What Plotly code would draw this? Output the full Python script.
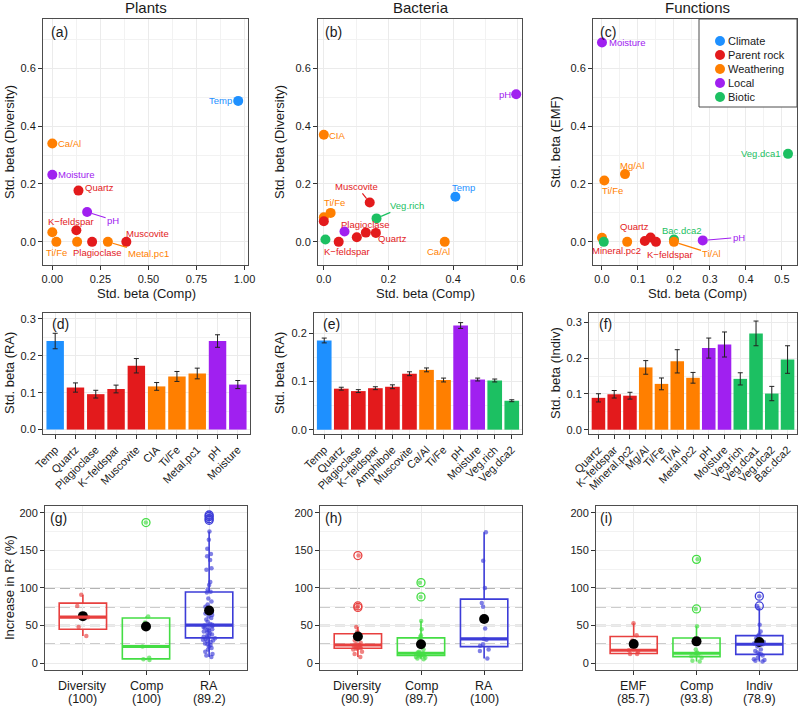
import numpy as np
import plotly.graph_objects as go

# ---------------- data ----------------
group_names = ["Climate", "Parent rock", "Weathering", "Local", "Biotic"]
group_hex = ["#1E90FF", "#E31A1C", "#FF7F00", "#A020F0", "#1CC062"]

# (a) Plants: Std. beta (Comp) vs Std. beta (Diversity)
plants_label = ["Temp", "Ca/Al", "Moisture", "Quartz", "pH", "K\u2212feldspar", "", "Ti/Fe", "", "Plagioclase", "Metal.pc1", "Muscovite"]
plants_comp = [0.967, 0.0, 0.0, 0.136, 0.181, 0.125, 0.0, 0.021, 0.129, 0.207, 0.289, 0.385]
plants_div = [0.487, 0.340, 0.232, 0.177, 0.103, 0.040, 0.033, 0.0, 0.0, 0.0, 0.0, 0.0]
plants_group = ["Climate", "Weathering", "Local", "Parent rock", "Local", "Parent rock", "Weathering",
                "Weathering", "Weathering", "Parent rock", "Weathering", "Parent rock"]

# (b) Bacteria
bact_label = ["pH", "CIA", "Temp", "Muscovite", "Ti/Fe", "", "", "Veg.rich", "", "", "K\u2212feldspar", "", "Plagioclase", "Quartz", "Ca/Al"]
bact_comp = [0.595, 0.0, 0.407, 0.142, 0.021, 0.0, 0.0, 0.163, 0.064, 0.005, 0.046, 0.102, 0.130, 0.161, 0.374]
bact_div = [0.510, 0.370, 0.156, 0.136, 0.100, 0.085, 0.071, 0.081, 0.036, 0.008, 0.0, 0.016, 0.032, 0.031, 0.0]
bact_group = ["Local", "Weathering", "Climate", "Parent rock", "Weathering", "Weathering", "Parent rock", "Biotic",
              "Local", "Biotic", "Parent rock", "Parent rock", "Parent rock", "Parent rock", "Weathering"]

# (c) Functions
func_label = ["Moisture", "Veg.dca1", "Mg/Al", "Ti/Fe", "", "", "", "Mineral.pc2", "Quartz", "K\u2212feldspar", "Bac.dca2", "Ti/Al", "pH"]
func_comp = [0.0, 0.517, 0.064, 0.0065, 0.0, 0.005, 0.070, 0.119, 0.135, 0.150, 0.200, 0.200, 0.280]
func_emf = [0.689, 0.304, 0.234, 0.212, 0.014, 0.0, 0.0, 0.003, 0.015, 0.0, 0.008, 0.0, 0.005]
func_group = ["Local", "Biotic", "Weathering", "Weathering", "Weathering", "Biotic", "Weathering", "Parent rock",
              "Parent rock", "Parent rock", "Biotic", "Weathering", "Local"]

# (d) Plants RA bars
plants_vars = ["Temp", "Quartz", "Plagioclase", "K\u2212feldspar", "Muscovite", "CIA", "Ti/Fe", "Metal.pc1", "pH", "Moisture"]
plants_ra = [0.240, 0.114, 0.096, 0.110, 0.173, 0.117, 0.144, 0.152, 0.240, 0.122]
plants_ra_se = [0.021, 0.0125, 0.0105, 0.0105, 0.0195, 0.0105, 0.0135, 0.0145, 0.017, 0.011]
plants_bar_group = ["Climate", "Parent rock", "Parent rock", "Parent rock", "Parent rock",
                    "Weathering", "Weathering", "Weathering", "Local", "Local"]

# (e) Bacteria RA bars
bact_vars = ["Temp", "Quartz", "Plagioclase", "K\u2212feldspar", "Amphibole", "Muscovite", "Ca/Al", "Ti/Fe",
             "pH", "Moisture", "Veg.rich", "Veg.dca2"]
bact_ra = [0.185, 0.085, 0.080, 0.086, 0.089, 0.116, 0.124, 0.103, 0.216, 0.104, 0.102, 0.060]
bact_ra_se = [0.005, 0.003, 0.003, 0.003, 0.004, 0.004, 0.004, 0.004, 0.006, 0.003, 0.003, 0.002]
bact_bar_group = ["Climate", "Parent rock", "Parent rock", "Parent rock", "Parent rock", "Parent rock",
                  "Weathering", "Weathering", "Local", "Local", "Biotic", "Biotic"]

# (f) Functions Indiv bars
func_vars = ["Quartz", "K\u2212feldspar", "Mineral.pc2", "Mg/Al", "Ti/Fe", "Ti/Al", "Metal.pc2", "pH", "Moisture",
             "Veg.rich", "Veg.dca1", "Veg.dca2", "Bac.dca2"]
func_indiv = [0.089, 0.099, 0.095, 0.174, 0.128, 0.191, 0.145, 0.228, 0.238, 0.142, 0.269, 0.101, 0.196]
func_indiv_se = [0.0115, 0.0105, 0.0095, 0.019, 0.0165, 0.0325, 0.015, 0.028, 0.035, 0.017, 0.0345, 0.020, 0.0385]
func_bar_group = ["Parent rock", "Parent rock", "Parent rock", "Weathering", "Weathering", "Weathering", "Weathering",
                  "Local", "Local", "Biotic", "Biotic", "Biotic", "Biotic"]

# (g)-(i) Increase in R2 (%)
plants_box_cats = ["Diversity", "Comp", "RA"]
plants_box_pct = ["(100)", "(100)", "(89.2)"]
plants_inc_diversity = [36, 48, 61, 76, 91]
plants_inc_comp = [4, 5, 7, 22, 54, 62, 187]
plants_inc_ra = [8, 10, 12, 15, 18, 20, 22, 24, 25, 26, 28, 29, 30, 31, 32, 33, 34, 35, 36, 37, 38, 40, 41, 42,
                 43, 44, 45, 46, 47, 48, 49, 50, 51, 52, 55, 58, 60, 62, 64, 66, 68, 70, 72, 75, 78, 82, 86, 94,
                 95, 98, 104, 108, 124, 126, 137, 142, 145, 152, 164, 175, 190, 192, 195, 197]

bact_box_cats = ["Diversity", "Comp", "RA"]
bact_box_pct = ["(90.9)", "(89.7)", "(100)"]
bact_inc_diversity = [8, 12, 15, 18, 19, 20, 20, 21, 22, 23, 24, 25, 27, 30, 36, 38, 42, 48, 74, 76, 143]
bact_inc_comp = [5, 6, 7, 8, 9, 10, 10, 11, 11, 12, 12, 13, 13, 14, 15, 18, 25, 32, 35, 37, 45, 56, 88, 107]
bact_inc_ra = [6, 16, 18, 23, 25, 31, 32, 46, 75, 80, 100, 136, 174]

func_box_cats = ["EMF", "Comp", "Indiv"]
func_box_pct = ["(85.7)", "(93.8)", "(78.9)"]
func_inc_emf = [12, 12, 15, 17, 30, 37, 53]
func_inc_comp = [2, 3, 7, 9, 10, 12, 13, 14, 18, 28, 49, 72, 138]
func_inc_indiv = [2, 3, 4, 5, 7, 10, 12, 12, 14, 16, 18, 22, 25, 26, 27, 28, 30, 33, 36, 38, 42, 51, 73, 76, 89]

ref_lines = [25, 50, 75, 100]

# ---------------- styling / layout ----------------
W, H = 798, 707
FONT = "Liberation Sans, Arial, Helvetica, sans-serif"
color_of = dict(zip(group_names, group_hex))
box_colors = ["#E8403F", "#44DD44", "#3C3CD8"]
BOX_W = 0.75

# panel boxes in pixels: left, right, top, bottom
panels = {
    1: (43, 248, 19, 265), 2: (318, 522, 19, 265), 3: (593, 797, 19, 265),
    4: (43, 250, 313, 434), 5: (314, 522, 313, 434), 6: (589, 797, 313, 434),
    7: (45, 247, 506, 670), 8: (320, 522, 506, 670), 9: (596, 797, 506, 670),
}


def sid(n):
    return "" if n == 1 else str(n)


fig = go.Figure()
layout = dict(
    width=W, height=H, margin=dict(l=0, r=0, t=0, b=0),
    paper_bgcolor="white", plot_bgcolor="white",
    font=dict(family=FONT, color="#1A1A1A", size=11),
    boxmode="overlay", showlegend=False, hovermode="closest",
)

GRID = "#EBEBEB"


def base_axis(n, is_x):
    l, r, t, b = panels[n]
    d = dict(
        showline=True, mirror=True, linecolor="#4D4D4D", linewidth=1,
        ticks="outside", ticklen=4, tickcolor="#333333", tickwidth=1,
        showgrid=True, gridcolor=GRID, gridwidth=1, zeroline=False,
        tickfont=dict(size=11, color="#1A1A1A", family=FONT), automargin=False,
    )
    if is_x:
        d["domain"] = [l / W, r / W]
        d["anchor"] = "y" + sid(n)
    else:
        d["domain"] = [1 - b / H, 1 - t / H]
        d["anchor"] = "x" + sid(n)
    return d


annotations = []
shapes = []


def ann_text(text, x, y, size, angle=0, anchor="center"):
    annotations.append(dict(text=text, x=x / W, y=1 - y / H, xref="paper", yref="paper",
                            showarrow=False, textangle=angle, xanchor=anchor, yanchor="middle",
                            font=dict(size=size, family=FONT, color="#1A1A1A")))


def panel_letter(n, letter, dx, dy):
    annotations.append(dict(text=letter, x=0, y=1, xref="x%s domain" % sid(n), yref="y%s domain" % sid(n),
                            xanchor="left", yanchor="top", xshift=dx, yshift=-dy, showarrow=False,
                            font=dict(size=14, family=FONT, color="#1A1A1A")))


# ---------- top row scatters ----------
label_offsets = {
    1: {"Temp": (-18, 0, False), "Ca/Al": (17, 0, False), "Moisture": (24, 0, False), "Quartz": (21, -3, False),
        "pH": (26, 8, True), "K\u2212feldspar": (-5, -9, False), "Ti/Fe": (0, 11, False),
        "Plagioclase": (5, 11, False), "Metal.pc1": (41, 12, True), "Muscovite": (21, -8, False)},
    2: {"pH": (-11, 0, False), "CIA": (14, 1, False), "Temp": (8, -9, False), "Muscovite": (-13, -16, True),
        "Ti/Fe": (4, -10, False), "Veg.rich": (30, -13, True), "Plagioclase": (0, -8, False),
        "Quartz": (17, 6, False), "K\u2212feldspar": (8, 10, False), "Ca/Al": (-6, 10, False)},
    3: {"Moisture": (25, 0, False), "Veg.dca1": (-27, 0, False), "Mg/Al": (7, -9, False), "Ti/Fe": (8, 10, False),
        "Quartz": (-16, -11, False), "Bac.dca2": (8, -9, False), "Mineral.pc2": (-28, 10, False),
        "K\u2212feldspar": (14, 13, False), "Ti/Al": (38, 12, True), "pH": (36, -3, True)},
}

scatter_sets = [
    (1, plants_comp, plants_div, plants_group, plants_label),
    (2, bact_comp, bact_div, bact_group, bact_label),
    (3, func_comp, func_emf, func_group, func_label),
]
for n, xs, ys, gs, labs in scatter_sets:
    fig.add_trace(go.Scatter(
        x=xs, y=ys, mode="markers", xaxis="x" + sid(n), yaxis="y" + sid(n), showlegend=False,
        marker=dict(size=10, color=[color_of[g] for g in gs], line=dict(width=0)),
        text=labs, hoverinfo="x+y+text"))
    for x, y, g, lab in zip(xs, ys, gs, labs):
        if not lab:
            continue
        dx, dy, seg = label_offsets[n][lab]
        c = color_of[g]
        a = dict(text=lab, x=x, y=y, xref="x" + sid(n), yref="y" + sid(n),
                 font=dict(size=9.5, family=FONT, color=c))
        if seg:
            a.update(showarrow=True, ax=dx, ay=dy, arrowhead=0, arrowwidth=1.2, arrowcolor=c, standoff=5)
        else:
            a.update(showarrow=False, xshift=dx, yshift=-dy)
        annotations.append(a)

top_x = {1: dict(range=[-0.0485, 1.018], dtick=0.25, tick0=0, tickformat=".2f", minor=0.125),
         2: dict(range=[-0.018, 0.613], dtick=0.2, tick0=0, tickformat=".1f", minor=0.1),
         3: dict(range=[-0.025, 0.542], dtick=0.1, tick0=0, tickformat=".1f", minor=0.05)}
for n in (1, 2, 3):
    xa = base_axis(n, True)
    spec = dict(top_x[n])
    m = spec.pop("minor")
    xa.update(spec)
    xa["minor"] = dict(dtick=m, showgrid=True, gridcolor="#F2F2F2", gridwidth=0.6)
    ya = base_axis(n, False)
    ya.update(range=[-0.08, 0.77], dtick=0.2, tick0=0, tickformat=".1f",
              minor=dict(dtick=0.1, showgrid=True, gridcolor="#F2F2F2", gridwidth=0.6))
    layout["xaxis" + sid(n)] = xa
    layout["yaxis" + sid(n)] = ya

# manual legend box inside panel (c)
LX0, LX1, LY0, LY1 = 699, 797, 19, 107
shapes.append(dict(type="rect", xref="paper", yref="paper", x0=LX0 / W, x1=LX1 / W, y0=1 - LY1 / H, y1=1 - LY0 / H,
                   line=dict(color="#4D4D4D", width=1), fillcolor="white", layer="above"))
for i, (g, c) in enumerate(zip(group_names, group_hex)):
    yy = 41 + 14 * i
    shapes.append(dict(type="circle", xref="paper", yref="paper", xsizemode="pixel", ysizemode="pixel",
                       xanchor=720 / W, yanchor=1 - yy / H, x0=-5, x1=5, y0=-5, y1=5,
                       fillcolor=c, line=dict(width=0), layer="above"))
    ann_text(g, 726, yy, 11, anchor="left")

# ---------- middle row bars ----------
bar_sets = [
    (4, plants_vars, plants_ra, plants_ra_se, plants_bar_group, [-0.012, 0.316], 0.1),
    (5, bact_vars, bact_ra, bact_ra_se, bact_bar_group, [-0.009, 0.242], 0.1),
    (6, func_vars, func_indiv, func_indiv_se, func_bar_group, [-0.012, 0.326], 0.1),
]
for n, cats, vals, se, gs, yr, dt in bar_sets:
    fig.add_trace(go.Bar(
        x=cats, y=vals, xaxis="x" + sid(n), yaxis="y" + sid(n), showlegend=False, width=0.86,
        marker=dict(color=[color_of[g] for g in gs], line=dict(width=0)),
        error_y=dict(type="data", array=se, visible=True, color="#222222", thickness=1, width=2.5)))
    xa = base_axis(n, True)
    xa.update(type="category", range=[-0.6, len(cats) - 0.4], tickangle=-45,
              tickfont=dict(size=11, color="#1A1A1A", family=FONT))
    ya = base_axis(n, False)
    ya.update(range=yr, dtick=dt, tick0=0, tickformat=".1f",
              minor=dict(dtick=dt / 2, showgrid=True, gridcolor="#F2F2F2", gridwidth=0.6))
    layout["xaxis" + sid(n)] = xa
    layout["yaxis" + sid(n)] = ya

# ---------- bottom row boxplots ----------
box_sets = [
    (7, plants_box_cats, plants_box_pct, [plants_inc_diversity, plants_inc_comp, plants_inc_ra]),
    (8, bact_box_cats, bact_box_pct, [bact_inc_diversity, bact_inc_comp, bact_inc_ra]),
    (9, func_box_cats, func_box_pct, [func_inc_emf, func_inc_comp, func_inc_indiv]),
]
for n, cats, pcts, groups in box_sets:
    xr, yr_ = "x" + sid(n), "y" + sid(n)
    for v in ref_lines:
        shapes.append(dict(type="line", xref="x%s domain" % sid(n), yref=yr_, x0=0, x1=1, y0=v, y1=v,
                           line=dict(color="#9A9A9A", width=1.5, dash="10px,5px"), layer="below"))
    for i, (cat, pct, vals, c) in enumerate(zip(cats, pcts, groups, box_colors)):
        fig.add_trace(go.Box(
            x=[cat] * len(vals), y=vals, xaxis=xr, yaxis=yr_, showlegend=False,
            boxpoints="outliers", pointpos=0, jitter=0, width=BOX_W, whiskerwidth=0,
            fillcolor="rgba(255,255,255,0)", line=dict(color=c, width=1.6),
            marker=dict(symbol="circle-open", size=8, color=c, line=dict(width=1.3, color=c)),
            quartilemethod="linear"))
        # thicker median bar, as in ggplot
        med = float(np.median(vals))
        shapes.append(dict(type="line", xref=xr, yref=yr_, x0=i - BOX_W / 2, x1=i + BOX_W / 2, y0=med, y1=med,
                           line=dict(color=c, width=3.2), layer="above"))
        fig.add_trace(go.Box(
            x=[cat] * len(vals), y=vals, xaxis=xr, yaxis=yr_, showlegend=False,
            boxpoints="all", pointpos=0, jitter=0.28, width=BOX_W, whiskerwidth=0,
            fillcolor="rgba(0,0,0,0)", line=dict(color="rgba(0,0,0,0)", width=0),
            marker=dict(size=4.5, color=c, opacity=0.65), hoverinfo="y"))
        fig.add_trace(go.Scatter(
            x=[cat], y=[float(np.mean(vals))], xaxis=xr, yaxis=yr_, mode="markers", showlegend=False,
            marker=dict(size=10, color="black")))
        for txt, yy in ((cat, 686), (pct, 699)):
            annotations.append(dict(text=txt, x=cat, xref=xr, y=1 - yy / H, yref="paper", showarrow=False,
                                    xanchor="center", yanchor="middle",
                                    font=dict(size=12.5, family=FONT, color="#1A1A1A")))
    xa = base_axis(n, True)
    xa.update(type="category", range=[-0.6, 2.6], showticklabels=False)
    ya = base_axis(n, False)
    ya.update(range=[-9.3, 209], dtick=50, tick0=0,
              minor=dict(dtick=25, showgrid=True, gridcolor="#F2F2F2", gridwidth=0.6))
    layout["xaxis" + sid(n)] = xa
    layout["yaxis" + sid(n)] = ya

# ---------- titles, axis titles, letters ----------
ann_text("Plants", 146, 7, 15)
ann_text("Bacteria", 421, 7, 15)
ann_text("Functions", 697, 7, 15)

for cx in (146, 425, 697):
    ann_text("Std. beta (Comp)", cx, 294, 13)

ann_text("Std. beta (Diversity)", 9, 142, 13, -90)
ann_text("Std. beta (Diversity)", 279, 142, 13, -90)
ann_text("Std. beta (EMF)", 555, 142, 13, -90)
ann_text("Std. beta (RA)", 9, 373, 13, -90)
ann_text("Std. beta (RA)", 279, 373, 13, -90)
ann_text("Std. beta (Indiv)", 555, 373, 13, -90)
ann_text("Increase in R\u00b2 (%)", 9, 588, 13, -90)

for n, letter, dx, dy in [(1, "(a)", 6, 3), (2, "(b)", 5, 3), (3, "(c)", 5, 3),
                          (4, "(d)", 7, 1), (5, "(e)", 7, 1), (6, "(f)", 8, 1),
                          (7, "(g)", 3, 2), (8, "(h)", 3, 2), (9, "(i)", 2, 2)]:
    panel_letter(n, letter, dx, dy)

layout["annotations"] = annotations
layout["shapes"] = shapes
fig.update_layout(**layout)
fig.write_html("out.html", config={"displayModeBar": False},
               post_script="document.body.style.margin='0px';document.body.style.overflow='hidden';")
